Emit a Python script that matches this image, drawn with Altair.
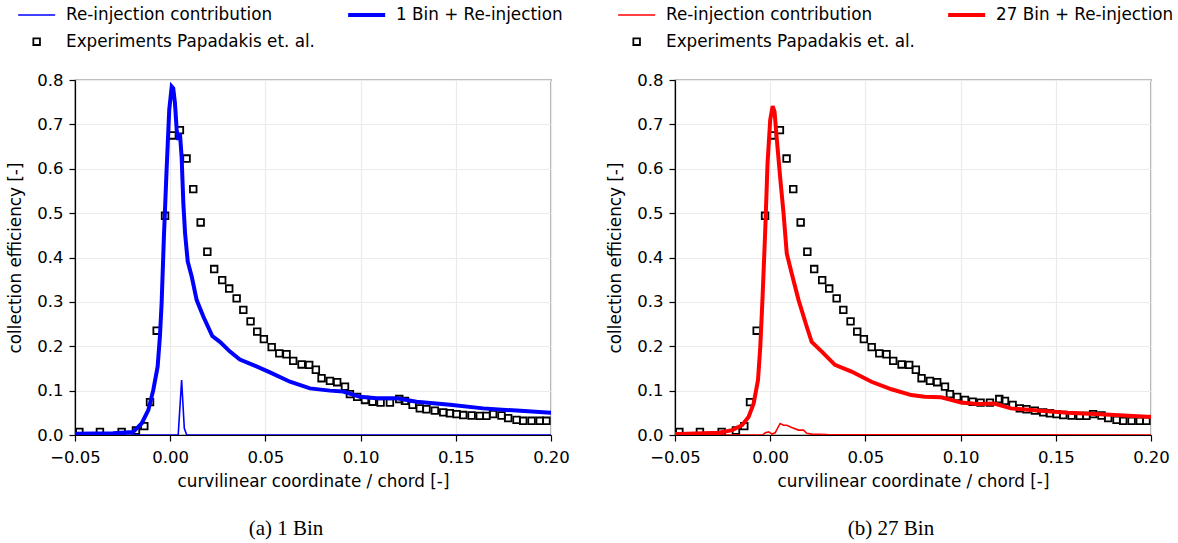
import altair as alt
import pandas as pd

# ---------------- data ----------------
exp_x = [-0.0477, -0.0369, -0.0255, -0.018, -0.0136, -0.0106, -0.0071, -0.0027, 0.0011, 0.0051,
         0.0086, 0.0121, 0.0160, 0.0195, 0.0231, 0.0273, 0.0310, 0.0349, 0.0384, 0.0422,
         0.0457, 0.0492, 0.0533, 0.0573, 0.0611, 0.0646, 0.0690, 0.0730, 0.0765, 0.0795,
         0.0839, 0.0877, 0.0918, 0.0944, 0.0982, 0.1023, 0.1063, 0.1105, 0.1154, 0.1203,
         0.1233, 0.1273, 0.1311, 0.1346, 0.1390, 0.1434, 0.1469, 0.1504, 0.1539, 0.1583,
         0.1626, 0.1661, 0.1696, 0.1740, 0.1775, 0.1819, 0.1854, 0.1898, 0.1941, 0.1976]
exp_y = [0.007, 0.007, 0.007, 0.010, 0.020, 0.074, 0.235, 0.494, 0.675, 0.687,
         0.623, 0.554, 0.479, 0.413, 0.374, 0.349, 0.330, 0.308, 0.282, 0.256,
         0.233, 0.216, 0.198, 0.184, 0.182, 0.167, 0.159, 0.158, 0.147, 0.128,
         0.122, 0.119, 0.109, 0.092, 0.086, 0.079, 0.075, 0.073, 0.073, 0.081,
         0.077, 0.068, 0.060, 0.058, 0.055, 0.051, 0.049, 0.047, 0.045, 0.044,
         0.043, 0.043, 0.047, 0.044, 0.038, 0.034, 0.032, 0.032, 0.032, 0.032]

bin1_x = [-0.05, -0.03, -0.0194, -0.015, -0.0115, -0.0089, -0.0066, -0.0054, -0.0045, -0.0033,
          -0.0019, -0.0005, 0.0008, 0.0016, 0.0025, 0.0034, 0.0042, 0.0051, 0.0060, 0.0069,
          0.0078, 0.0092, 0.0113, 0.0139, 0.0174, 0.0221, 0.0261, 0.0314, 0.0366, 0.045,
          0.0524, 0.0629, 0.0734, 0.0839, 0.0909, 0.0996, 0.1084, 0.1189, 0.1294, 0.1469,
          0.1644, 0.1819, 0.2]
bin1_y = [0.003, 0.004, 0.007, 0.026, 0.056, 0.101, 0.154, 0.222, 0.297, 0.447,
          0.597, 0.733, 0.785, 0.781, 0.748, 0.688, 0.665, 0.680, 0.627, 0.522,
          0.455, 0.391, 0.357, 0.304, 0.267, 0.223, 0.210, 0.188, 0.170, 0.155,
          0.141, 0.120, 0.105, 0.100, 0.098, 0.086, 0.083, 0.083, 0.075, 0.068,
          0.060, 0.055, 0.050]
reinj1_x = [-0.05, 0.0042, 0.0060, 0.0074, 0.0087, 0.2]
reinj1_y = [0.0, 0.0, 0.124, 0.015, 0.0, 0.0]

bin27_x = [-0.05, -0.0479, -0.027, -0.02, -0.0148, -0.0113, -0.0087, -0.0064, -0.0052, -0.004,
           -0.0026, -0.0014, 0.0, 0.0013, 0.0023, 0.0035, 0.0052, 0.007, 0.0087, 0.0113,
           0.0149, 0.0192, 0.0218, 0.0271, 0.034, 0.0427, 0.0532, 0.0637, 0.0741, 0.0811,
           0.0898, 0.1003, 0.109, 0.1177, 0.1264, 0.1404, 0.1561, 0.1735, 0.1979, 0.2]
bin27_y = [0.002, 0.002, 0.005, 0.011, 0.022, 0.041, 0.071, 0.124, 0.199, 0.312,
           0.462, 0.612, 0.710, 0.741, 0.728, 0.665, 0.582, 0.500, 0.409, 0.364,
           0.304, 0.244, 0.210, 0.188, 0.158, 0.143, 0.120, 0.103, 0.090, 0.086,
           0.085, 0.073, 0.070, 0.071, 0.060, 0.055, 0.050, 0.047, 0.041, 0.041]
reinj27_x = [-0.05, -0.004, -0.0026, -0.0008, 0.0009, 0.0026, 0.0052, 0.007, 0.0087, 0.0113,
             0.0149, 0.0175, 0.0192, 0.0218, 0.03, 0.2]
reinj27_y = [0.0, 0.0, 0.005, 0.007, 0.002, 0.005, 0.026, 0.022, 0.022, 0.017,
             0.011, 0.011, 0.004, 0.002, 0.001, 0.0]

x_ticks = [-0.05, 0.0, 0.05, 0.10, 0.15, 0.20]
y_ticks = [0.0, 0.1, 0.2, 0.3, 0.4, 0.5, 0.6, 0.7, 0.8]

REINJ = "Re-injection contribution"
EXP = "Experiments Papadakis et. al."
# symbol paths (unit box scaled by sqrt(size)/2 = 5 px)
LINE_SYM = "M-3.7,0H3.7"
SQUARE_SYM = "M-0.66,-0.66H0.66V0.66H-0.66Z"

FONT = "DejaVu Sans"
FS_TICK = 16.5
FS = 16.8


def panel(thin_x, thin_y, thick_x, thick_y, thick_name, color, caption, cap_dx, legend_x):
    dom = [REINJ, thick_name, EXP]
    lines_df = pd.concat([
        pd.DataFrame({"x": thin_x, "y": thin_y, "series": REINJ}),
        pd.DataFrame({"x": thick_x, "y": thick_y, "series": thick_name}),
    ])
    exp_df = pd.DataFrame({"x": exp_x, "y": exp_y, "series": EXP})

    legend = alt.Legend(orient="none", legendX=legend_x, legendY=-75, columns=2,
                        title=None, direction="horizontal")
    cscale = alt.Scale(domain=dom, range=[color, color, "black"])
    sscale = alt.Scale(domain=dom, range=[LINE_SYM, LINE_SYM, SQUARE_SYM])
    wscale = alt.Scale(type="ordinal", domain=dom, range=[1.6, 4.0, 1.8])

    xenc = alt.X("x:Q", scale=alt.Scale(domain=[-0.05, 0.2], nice=False),
                 axis=alt.Axis(values=x_ticks, format=".2f",
                               title="curvilinear coordinate / chord [-]"))
    yenc = alt.Y("y:Q", scale=alt.Scale(domain=[0, 0.8], nice=False),
                 axis=alt.Axis(values=y_ticks, format=".1f",
                               title="collection efficiency [-]"))

    pts = alt.Chart(exp_df).mark_point(filled=False, size=100, strokeWidth=1.8, opacity=1).encode(
        x=xenc, y=yenc,
        color=alt.Color("series:N", scale=cscale, legend=legend),
        shape=alt.Shape("series:N", scale=sscale, legend=legend),
    )
    lines = alt.Chart(lines_df).mark_line(clip=True).encode(
        x=xenc, y=yenc,
        color=alt.Color("series:N", scale=cscale, legend=legend),
        strokeWidth=alt.StrokeWidth("series:N", scale=wscale, legend=legend),
    )
    return alt.layer(pts, lines).properties(
        width=476, height=355,
        title=alt.TitleParams(caption, orient="bottom", anchor="middle", font="Liberation Serif",
                              fontSize=21, fontWeight="normal", color="black", offset=28, dx=cap_dx),
    )


left = panel(reinj1_x, reinj1_y, bin1_x, bin1_y, "1 Bin + Re-injection", "#0000ff", "(a) 1 Bin", -27, -57)
right = panel(reinj27_x, reinj27_y, bin27_x, bin27_y, "27 Bin + Re-injection", "#ff0000", "(b) 27 Bin", -22, -57)

chart = alt.hconcat(left, right, spacing=37).resolve_scale(
    color="independent", shape="independent", strokeWidth="independent"
).resolve_legend(
    color="independent", shape="independent", strokeWidth="independent"
).properties(
    padding={"left": 7, "top": 4, "right": 0, "bottom": 0}
).configure_axis(
    labelFont=FONT, labelFontSize=FS_TICK, titleFont=FONT, titleFontSize=FS,
    titleFontWeight="normal", labelColor="black", titleColor="black",
    tickColor="black", domainColor="black", gridColor="#ebebeb", gridWidth=1.2,
    tickSize=6, tickWidth=1.2, domainWidth=1.2, labelPadding=6, labelFlush=False,
).configure_axisX(titlePadding=8, labelPadding=8).configure_axisY(titlePadding=12).configure_view(
    stroke="black", strokeWidth=1.2
).configure_legend(
    labelFont=FONT, labelFontSize=FS, labelColor="black", symbolSize=100, clipHeight=20,
    rowPadding=6.7, columnPadding=33, symbolOffset=10.25, labelOffset=21, padding=0, labelLimit=0,
    symbolFillColor="transparent", symbolOpacity=1,
)

chart.save("out.html", embed_options={"renderer": "svg", "actions": False})
